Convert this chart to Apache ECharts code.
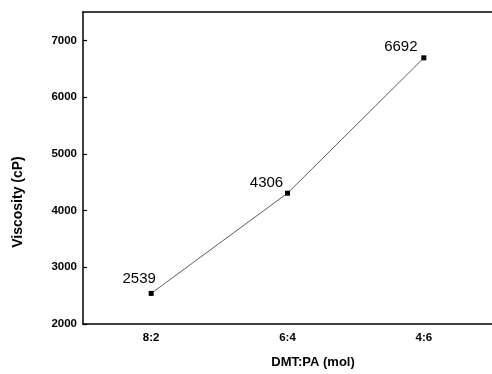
<!DOCTYPE html>
<html>
<head>
<meta charset="utf-8">
<script src="https://cdn.jsdelivr.net/npm/echarts@6/dist/echarts.min.js"></script>
<style>html,body{margin:0;padding:0;background:#fff}#c{width:492px;height:374px}</style>
</head>
<body>
<div id="c"></div>
<script>
var categories = ['8:2', '6:4', '4:6'];
var viscosity = [2539, 4306, 6692];
var xAxisTitle = 'DMT:PA (mol)';
var yAxisTitle = 'Viscosity (cP)';

var labelOffsets = [[-12, 0], [-21, 5], [-23, 4]];
var chart = echarts.init(document.getElementById('c'));
var font = 'Liberation Sans, Arial, sans-serif';
chart.setOption({
  animation: false,
  grid: { left: 83, width: 410, top: 12, bottom: 44 },
  xAxis: [{
    type: 'category',
    data: categories,
    boundaryGap: true,
    name: xAxisTitle,
    nameLocation: 'middle',
    nameGap: 32,
    nameTextStyle: { fontFamily: font, fontWeight: 'bold', fontSize: 13, color: '#000', padding: [0, 0, 0, 51] },
    axisLine: { lineStyle: { color: '#000', width: 1.5 } },
    axisTick: { inside: true, length: 4, alignWithLabel: true, lineStyle: { color: '#000', width: 1.2 } },
    axisLabel: { fontFamily: font, fontWeight: 'bold', fontSize: 11.5, color: '#000', margin: 8 },
    splitLine: { show: false }
  }, {
    type: 'category',
    data: categories,
    position: 'top',
    axisLine: { lineStyle: { color: '#000', width: 1.5 } },
    axisTick: { show: false },
    axisLabel: { show: false },
    splitLine: { show: false }
  }],
  yAxis: {
    type: 'value',
    min: 2000,
    max: 7500,
    interval: 1000,
    name: yAxisTitle,
    nameLocation: 'middle',
    nameGap: 58,
    nameTextStyle: { fontFamily: font, fontWeight: 'bold', fontSize: 14, color: '#000', padding: [0, 68, 0, 0] },
    axisLine: { show: true, lineStyle: { color: '#000', width: 1.5 } },
    axisTick: { show: true, inside: true, length: 4, lineStyle: { color: '#000', width: 1.2 } },
    axisLabel: { fontFamily: font, fontWeight: 'bold', fontSize: 11.5, color: '#000', margin: 6, showMaxLabel: false,
      formatter: function (v) { return String(v); } },
    splitLine: { show: false }
  },
  series: [{
    type: 'line',
    data: viscosity.map(function (v, i) {
      return { value: v, label: { offset: labelOffsets[i] } };
    }),
    symbol: 'rect',
    symbolSize: 5,
    itemStyle: { color: '#000' },
    lineStyle: { color: '#333', width: 0.8 },
    label: { show: true, position: 'top', fontFamily: font, fontSize: 15, color: '#000' }
  }]
});
</script>
</body>
</html>
